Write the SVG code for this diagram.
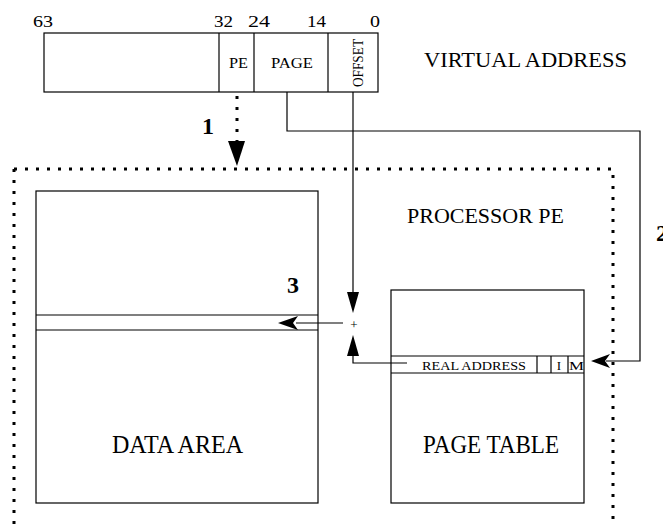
<svg xmlns="http://www.w3.org/2000/svg" width="663" height="526" viewBox="0 0 663 526">
  <style>
    .box { fill: #fff; stroke: #000; stroke-width: 1.2; }
    .ln { fill: none; stroke: #000; stroke-width: 1.2; }
    .dot { fill: none; stroke: #000; stroke-width: 3; stroke-dasharray: 3 8; }
    .t { font-family: "Liberation Serif", "Times New Roman", serif; fill: #000; }
    .num { font-family: "Liberation Serif", "Times New Roman", serif; font-size: 16px; fill: #000; }
    .b { font-family: "Liberation Serif", "Times New Roman", serif; font-size: 24px; font-weight: bold; fill: #000; }
  </style>
  <rect width="663" height="526" fill="#fff"/>

  <!-- virtual address word -->
  <g id="virtual-address">
    <rect class="box" x="44" y="33" width="334" height="59"/>
    <line class="ln" x1="219" y1="33" x2="219" y2="92"/>
    <line class="ln" x1="254" y1="33" x2="254" y2="92"/>
    <line class="ln" x1="328" y1="33" x2="328" y2="92"/>
    <text class="num" x="33" y="27" textLength="20" lengthAdjust="spacingAndGlyphs">63</text>
    <text class="num" x="214" y="27" textLength="19" lengthAdjust="spacingAndGlyphs">32</text>
    <text class="num" x="248" y="27" textLength="22" lengthAdjust="spacingAndGlyphs">24</text>
    <text class="num" x="307" y="27" textLength="19" lengthAdjust="spacingAndGlyphs">14</text>
    <text class="num" x="370" y="27" textLength="10" lengthAdjust="spacingAndGlyphs">0</text>
    <text class="t" x="229" y="68" font-size="15" textLength="19" lengthAdjust="spacingAndGlyphs">PE</text>
    <text class="t" x="271" y="68" font-size="15" textLength="42" lengthAdjust="spacingAndGlyphs">PAGE</text>
    <text class="t" font-size="15" text-anchor="middle" textLength="48" lengthAdjust="spacingAndGlyphs" transform="translate(363,63) rotate(-90)">OFFSET</text>
    <text class="t" x="424" y="67" font-size="21" textLength="203" lengthAdjust="spacingAndGlyphs">VIRTUAL ADDRESS</text>
  </g>

  <!-- processor boundary -->
  <g id="processor">
    <path class="dot" d="M14,169 H613 V526"/>
    <path class="dot" d="M14,169 V526"/>
    <text class="t" x="407" y="223" font-size="22" textLength="157" lengthAdjust="spacingAndGlyphs">PROCESSOR PE</text>
  </g>

  <!-- data area -->
  <g id="data-area">
    <rect class="box" x="36" y="191" width="282" height="312"/>
    <line class="ln" x1="36" y1="315" x2="318" y2="315"/>
    <line class="ln" x1="36" y1="330" x2="318" y2="330"/>
    <text class="t" x="112" y="453" font-size="25" textLength="131" lengthAdjust="spacingAndGlyphs">DATA AREA</text>
  </g>

  <!-- page table -->
  <g id="page-table">
    <rect class="box" x="391" y="290" width="193" height="213"/>
    <line class="ln" x1="391" y1="356" x2="584" y2="356"/>
    <line class="ln" x1="391" y1="373" x2="584" y2="373"/>
    <line class="ln" x1="537" y1="356" x2="537" y2="373"/>
    <line class="ln" x1="551" y1="356" x2="551" y2="373"/>
    <line class="ln" x1="568" y1="356" x2="568" y2="373"/>
    <text class="t" x="422" y="370" font-size="13" textLength="104" lengthAdjust="spacingAndGlyphs">REAL ADDRESS</text>
    <text class="t" x="559" y="370" font-size="13" text-anchor="middle">I</text>
    <text class="t" x="569" y="370" font-size="13" textLength="15" lengthAdjust="spacingAndGlyphs">M</text>
    <text class="t" x="423" y="453" font-size="25" textLength="136" lengthAdjust="spacingAndGlyphs">PAGE TABLE</text>
  </g>

  <!-- adder -->
  <g id="adder">
    <text class="t" x="354" y="329" font-size="13" text-anchor="middle">+</text>
  </g>

  <!-- connectors -->
  <g id="connectors">
    <line class="dot" x1="237" y1="96" x2="237" y2="143"/>
    <path d="M228,141 L245,141 L237,166 Z" fill="#000"/>
    <text class="b" x="208" y="134" text-anchor="middle">1</text>

    <path class="ln" d="M287,92 V131 H640 V361 H606"/>
    <path d="M610,354 L591,361 L610,368 L605,361 Z" fill="#000"/>
    <text class="b" x="656" y="241">2</text>

    <line class="ln" x1="353" y1="92" x2="353" y2="300"/>
    <path d="M347,292 L359,292 L353,313 Z" fill="#000"/>

    <path class="ln" d="M407,363 H353 V350"/>
    <path d="M347,356 L359,356 L353,335 Z" fill="#000"/>

    <line class="ln" x1="343" y1="323" x2="296" y2="323"/>
    <path d="M298,316 L278,323 L298,330 L293,323 Z" fill="#000"/>
    <text class="b" x="293" y="293" text-anchor="middle">3</text>
  </g>
</svg>
